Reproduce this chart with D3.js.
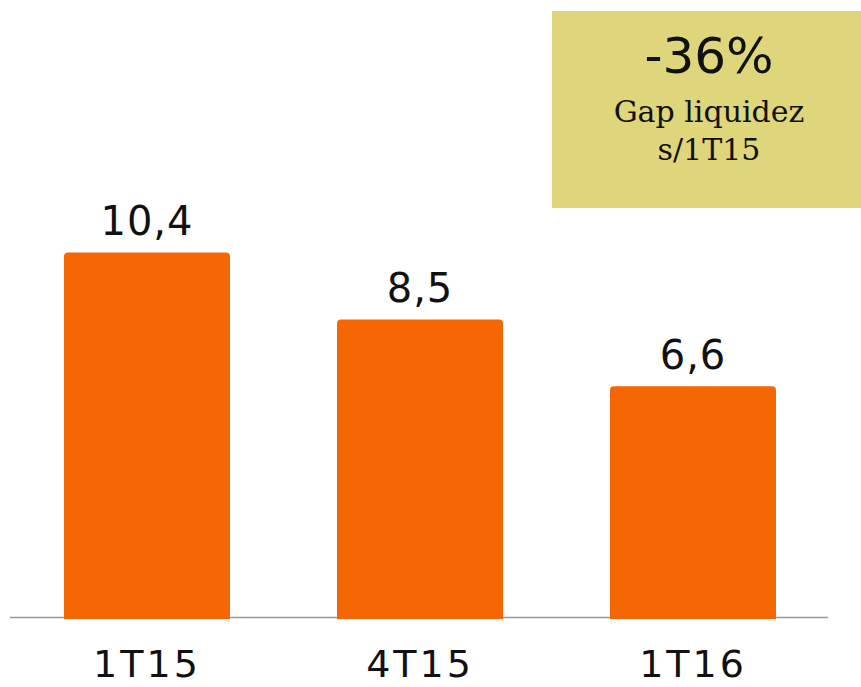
<!DOCTYPE html>
<html><head><meta charset="utf-8">
<script src="https://cdn.jsdelivr.net/npm/d3@7"></script>
<style>body{margin:0;background:#fff}svg{display:block}</style>
</head><body>
<script>
const categories = ["1T15", "4T15", "1T16"];
const values = [10.4, 8.5, 6.6];
const valueLabels = ["10,4", "8,5", "6,6"];
const boxTitle = "-36%";
const boxLines = ["Gap liquidez", "s/1T15"];

const W = 861, H = 687;
const svg = d3.select("body").append("svg").attr("width", W).attr("height", H);

const x = d3.scaleBand().domain(categories).range([64, 776]).paddingInner(0.392).paddingOuter(0);
const y = d3.scaleLinear().domain([0, 12]).range([619, 196]);

// axis line
svg.append("line").attr("x1", 10).attr("x2", 828).attr("y1", 617.5).attr("y2", 617.5)
  .attr("stroke", "#999").attr("stroke-width", 1.5);

const r = 4;
svg.selectAll("path.bar").data(values).join("path").attr("class", "bar")
  .attr("fill", "#F46702")
  .attr("d", (d, i) => {
    const x0 = x(categories[i]), x1 = x0 + x.bandwidth(), yt = y(d), yb = y(0);
    return `M${x0},${yb}V${yt + r}Q${x0},${yt} ${x0 + r},${yt}H${x1 - r}Q${x1},${yt} ${x1},${yt + r}V${yb}Z`;
  });

svg.selectAll("text.val").data(values).join("text").attr("class", "val")
  .attr("x", (d, i) => x(categories[i]) + x.bandwidth() / 2)
  .attr("y", d => y(d) - 17)
  .attr("text-anchor", "middle").attr("font-family", "DejaVu Sans").attr("font-size", 40)
  .attr("letter-spacing", 1)
  .attr("fill", "#111").text((d, i) => valueLabels[i]);

svg.selectAll("text.cat").data(categories).join("text").attr("class", "cat")
  .attr("x", d => x(d) + x.bandwidth() / 2).attr("y", 677)
  .attr("text-anchor", "middle").attr("font-family", "DejaVu Sans").attr("font-size", 38)
  .attr("letter-spacing", 3)
  .attr("fill", "#111").text(d => d);

// box
svg.append("rect").attr("x", 552).attr("y", 11).attr("width", 309).attr("height", 197).attr("fill", "#DFD57A");
svg.append("text").attr("x", 709).attr("y", 73).attr("text-anchor", "middle")
  .attr("font-family", "DejaVu Sans").attr("font-size", 50).attr("fill", "#111").text(boxTitle);
svg.selectAll("text.bl").data(boxLines).join("text").attr("class", "bl")
  .attr("x", 709).attr("y", (d, i) => 122 + i * 38).attr("text-anchor", "middle")
  .attr("font-family", "DejaVu Serif").attr("font-size", 30).attr("fill", "#111").text(d => d);
</script>
</body></html>
